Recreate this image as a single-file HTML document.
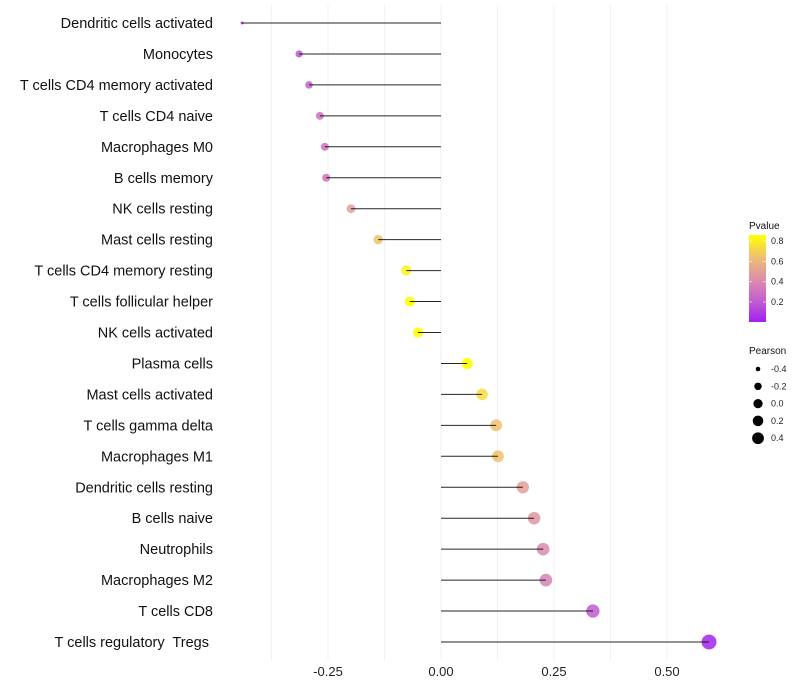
<!DOCTYPE html>
<html><head><meta charset="utf-8"><style>
body{margin:0;background:#fff;}
svg{display:block;font-family:"Liberation Sans",sans-serif;}
text{white-space:pre;}
</style></head><body>
<svg id="chart" width="800" height="700" viewBox="0 0 800 700"></svg>
<script>
const categories=["Dendritic cells activated","Monocytes","T cells CD4 memory activated","T cells CD4 naive","Macrophages M0","B cells memory","NK cells resting","Mast cells resting","T cells CD4 memory resting","T cells follicular helper","NK cells activated","Plasma cells","Mast cells activated","T cells gamma delta","Macrophages M1","Dendritic cells resting","B cells naive","Neutrophils","Macrophages M2","T cells CD8","T cells regulatory  Tregs "];
const pearson=[-0.44,-0.314,-0.292,-0.268,-0.257,-0.254,-0.199,-0.139,-0.077,-0.069,-0.051,0.058,0.091,0.122,0.126,0.181,0.206,0.226,0.232,0.336,0.593];
const pvalues=[0.02,0.18,0.22,0.3,0.3,0.3,0.5,0.66,0.82,0.86,0.88,0.87,0.74,0.65,0.65,0.5,0.45,0.4,0.38,0.2,0.02];
const xTicks=[-0.25,0,0.25,0.5];
const xTickLabels=["-0.25","0.00","0.25","0.50"];
const xMinor=[-0.375,-0.125,0.125,0.375];
const pLegend=[0.8,0.6,0.4,0.2];
const sizeLegend=[-0.4,-0.2,0.0,0.2,0.4];
const sizeLegendLabels=["-0.4","-0.2","0.0","0.2","0.4"];

const NS="http://www.w3.org/2000/svg";
const svg=document.getElementById('chart');
function mk(t,a,p){const e=document.createElementNS(NS,t);for(const k in a)e.setAttribute(k,a[k]);(p||svg).appendChild(e);return e;}
const x=v=>441+v*452;
const y=i=>23+i*30.95;
const r=p=>1.5+5.9*Math.sqrt(Math.max(0,p+0.44));
const stops=[[0,[160,32,240]],[0.25,[197,95,208]],[0.5,[221,144,168]],[0.75,[240,192,112]],[1,[255,255,0]]];
const pMin=0.003,pMax=0.86;
function col(p){let t=Math.max(0,Math.min(1,(p-pMin)/(pMax-pMin)));for(let i=1;i<stops.length;i++){if(t<=stops[i][0]){const a=stops[i-1],b=stops[i];const f=(t-a[0])/(b[0]-a[0]);const c=a[1].map((v,j)=>Math.round(v+(b[1][j]-v)*f));return `rgb(${c})`;}}return 'rgb(255,255,0)';}

xMinor.concat(xTicks).forEach(v=>{
  const g=mk('line',{x1:x(v),x2:x(v),y1:5,y2:660,stroke:'#f1f1f1','stroke-width':1});
  
  
});
xTicks.forEach((v,i)=>{
  const t=mk('text',{x:x(v),y:676,'text-anchor':'middle','font-size':13,fill:'#222'});
  t.textContent=xTickLabels[i];
  
  
});
categories.forEach((c,i)=>{
  const t=mk('text',{x:213,y:y(i)+5,'text-anchor':'end','font-size':14.5,fill:'#111'});
  t.textContent=c;
  
  
  const d=mk('circle',{cx:x(pearson[i]),cy:y(i),r:r(pearson[i]),fill:col(pvalues[i]),'fill-opacity':0.85});
  
  
  const l=mk('line',{x1:x(0),x2:x(pearson[i]),y1:y(i),y2:y(i),stroke:'#000','stroke-width':1,'stroke-opacity':0.85});
  
  
});
const lt=mk('text',{x:749,y:229,'font-size':10,fill:'#111'});lt.textContent='Pvalue';


const defs=mk('defs',{});
const gr=mk('linearGradient',{id:'pg',x1:0,y1:1,x2:0,y2:0},defs);
stops.forEach(s=>mk('stop',{offset:s[0],'stop-color':`rgb(${s[1]})`},gr));
const bar=mk('rect',{x:749,y:235,width:17,height:87,fill:'url(#pg)'});


const py=p=>322-(p-pMin)/(pMax-pMin)*87;
pLegend.forEach(p=>{
  mk('line',{x1:749,x2:752,y1:py(p),y2:py(p),stroke:'#fff','stroke-opacity':0.6});
  mk('line',{x1:763,x2:766,y1:py(p),y2:py(p),stroke:'#fff','stroke-opacity':0.6});
  const t=mk('text',{x:771,y:py(p)+3,'font-size':9,fill:'#222'});t.textContent=p.toFixed(1);
  
  
});
const st=mk('text',{x:749,y:354,'font-size':10,fill:'#111'});st.textContent='Pearson';


sizeLegend.forEach((p,i)=>{
  const cy=369+i*17.3;
  const c=mk('circle',{cx:758,cy:cy,r:r(p)*0.85,fill:'#000'});
  
  
  const t=mk('text',{x:771,y:cy+3,'font-size':9,fill:'#222'});t.textContent=sizeLegendLabels[i];
  
  
});
</script>
</body></html>
